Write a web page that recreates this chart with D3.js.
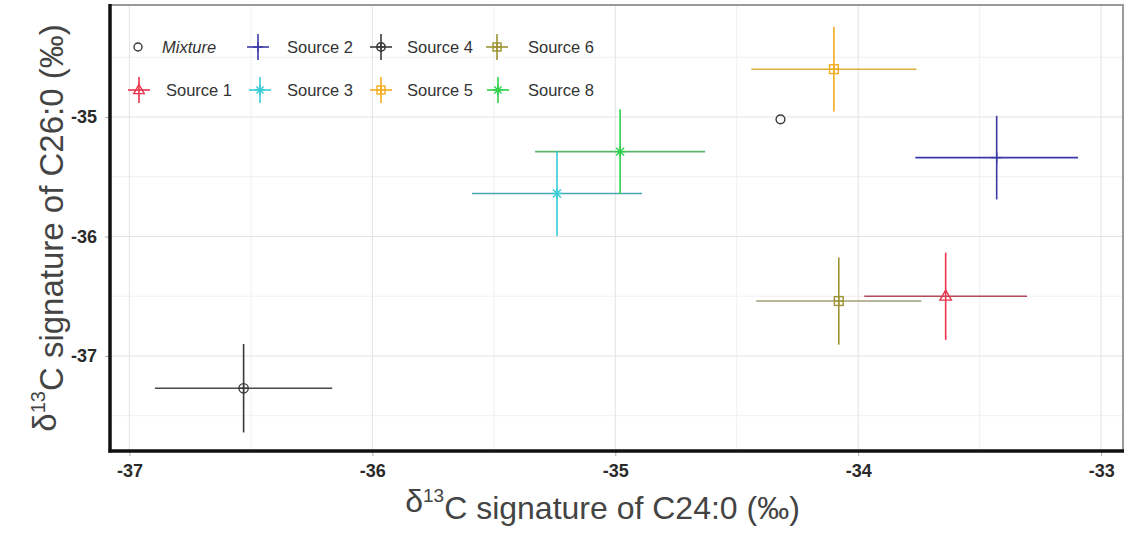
<!DOCTYPE html>
<html>
<head>
<meta charset="utf-8">
<script src="https://cdn.jsdelivr.net/npm/d3@7"></script>
<style>
  html, body { margin: 0; padding: 0; background: #fff; }
  svg { display: block; }
</style>
</head>
<body>
<svg id="chart" width="1126" height="537"></svg>
<script>
// Source means and standard deviations of the two compound-specific signatures
const sourceNames = ["Source 1", "Source 2", "Source 3", "Source 4", "Source 5", "Source 6", "Source 8"];
const c24Mean = [-33.64, -33.43, -35.24, -36.53, -34.10, -34.08, -34.98];
const c24Sd   = [0.335, 0.335, 0.35, 0.365, 0.34, 0.34, 0.35];
const c26Mean = [-36.50, -35.34, -35.64, -37.27, -34.60, -36.54, -35.29];
const c26Sd   = [0.365, 0.35, 0.355, 0.37, 0.355, 0.365, 0.355];
const shapes  = ["triangle", "plus", "asterisk", "circlePlus", "squarePlus", "squarePlus", "asterisk"];
const colors  = ["#e8344c", "#3a3aa6", "#38ccd6", "#3a3a3a", "#f2ac1f", "#9c9233", "#2fd04a"];
const barColors = ["#b34a58", "#3a3aa6", "#4aa7ad", "#4a4a4a", "#dcae3e", "#a29f78", "#5db56c"];

// Mixture sample
const mixtureC24 = [-34.32];
const mixtureC26 = [-35.02];

const xTicks = [-37, -36, -35, -34, -33];
const yTicks = [-37, -36, -35];
const xMinor = [-36.5, -35.5, -34.5, -33.5];
const yMinor = [-37.5, -36.5, -35.5, -34.5];

const svg = d3.select("#chart");
const panel = { left: 110, right: 1123, top: 5, bottom: 451 };

const x = d3.scaleLinear().domain([-37.08, -32.91]).range([panel.left, panel.right]);
const y = d3.scaleLinear().domain([-37.795, -34.063]).range([panel.bottom, panel.top]);

// Grid
const grid = svg.append("g");
grid.selectAll(".xminor").data(xMinor).join("line")
  .attr("x1", d => x(d)).attr("x2", d => x(d))
  .attr("y1", panel.top).attr("y2", panel.bottom)
  .attr("stroke", "#f0f0f0").attr("stroke-width", 1);
grid.selectAll(".yminor").data(yMinor).join("line")
  .attr("y1", d => y(d)).attr("y2", d => y(d))
  .attr("x1", panel.left).attr("x2", panel.right)
  .attr("stroke", "#f0f0f0").attr("stroke-width", 1);
grid.selectAll(".xmajor").data(xTicks).join("line")
  .attr("x1", d => x(d)).attr("x2", d => x(d))
  .attr("y1", panel.top).attr("y2", panel.bottom)
  .attr("stroke", "#e3e3e3").attr("stroke-width", 1);
grid.selectAll(".ymajor").data(yTicks).join("line")
  .attr("y1", d => y(d)).attr("y2", d => y(d))
  .attr("x1", panel.left).attr("x2", panel.right)
  .attr("stroke", "#e3e3e3").attr("stroke-width", 1);

// Panel border: light top/right, heavy left/bottom
svg.append("rect")
  .attr("x", panel.left).attr("y", panel.top)
  .attr("width", panel.right - panel.left).attr("height", panel.bottom - panel.top)
  .attr("fill", "none").attr("stroke", "#9a9a9a").attr("stroke-width", 2);

// Axes
const xAxis = svg.append("g")
  .attr("transform", `translate(0,${panel.bottom})`)
  .call(d3.axisBottom(x).tickValues(xTicks).tickFormat(d => String(d)).tickSize(5).tickPadding(6));
const yAxis = svg.append("g")
  .attr("transform", `translate(${panel.left},0)`)
  .call(d3.axisLeft(y).tickValues(yTicks).tickFormat(d => String(d)).tickSize(5).tickPadding(6));
[xAxis, yAxis].forEach(a => {
  a.select(".domain").remove();
  a.selectAll(".tick line").attr("stroke", "#b0b0b0");
  a.selectAll(".tick text")
    .attr("fill", "#2a2a2a")
    .style("font-family", "'Liberation Sans Narrow', 'Liberation Sans', Arial, sans-serif")
    .style("font-size", "18px")
    .style("font-weight", "bold");
});
xAxis.selectAll(".tick text").attr("dy", "0.85em");
yAxis.selectAll(".tick text").attr("dx", "-2");

svg.append("line")
  .attr("x1", panel.left).attr("x2", panel.left)
  .attr("y1", panel.top - 1).attr("y2", panel.bottom + 1.5)
  .attr("stroke", "#111").attr("stroke-width", 3.5);
svg.append("line")
  .attr("x1", panel.left - 1.5).attr("x2", panel.right + 1)
  .attr("y1", panel.bottom).attr("y2", panel.bottom)
  .attr("stroke", "#111").attr("stroke-width", 3.5);

// Point glyphs
function drawShape(g, shape, color, r) {
  const sw = 1.4;
  const line = (x1, y1, x2, y2) => g.append("line")
    .attr("x1", x1).attr("y1", y1).attr("x2", x2).attr("y2", y2)
    .attr("stroke", color).attr("stroke-width", sw);
  if (shape === "triangle") {
    const h = r * 1.1;
    g.append("path")
      .attr("d", `M0,${-h} L${h * 0.95},${h * 0.65} L${-h * 0.95},${h * 0.65} Z`)
      .attr("fill", "none").attr("stroke", color).attr("stroke-width", sw);
  } else if (shape === "plus") {
    line(-r, 0, r, 0); line(0, -r, 0, r);
  } else if (shape === "asterisk") {
    line(-r, 0, r, 0); line(0, -r, 0, r);
    const d = r * 0.72;
    line(-d, -d, d, d); line(-d, d, d, -d);
  } else if (shape === "circlePlus") {
    g.append("circle").attr("r", r * 0.85).attr("fill", "none").attr("stroke", color).attr("stroke-width", sw);
    line(-r * 0.85, 0, r * 0.85, 0); line(0, -r * 0.85, 0, r * 0.85);
  } else if (shape === "squarePlus") {
    const s = r * 0.8;
    g.append("rect").attr("x", -s).attr("y", -s).attr("width", 2 * s).attr("height", 2 * s)
      .attr("fill", "none").attr("stroke", color).attr("stroke-width", sw);
    line(-s, 0, s, 0); line(0, -s, 0, s);
  } else if (shape === "circle") {
    g.append("circle").attr("r", r * 0.8).attr("fill", "none").attr("stroke", color).attr("stroke-width", sw);
  }
}

// Source error crosses
const sources = sourceNames.map((name, i) => ({
  name, x: c24Mean[i], xe: c24Sd[i], y: c26Mean[i], ye: c26Sd[i],
  shape: shapes[i], color: colors[i], barColor: barColors[i]
}));

const marks = svg.append("g");
sources.forEach(s => {
  marks.append("line")
    .attr("x1", x(s.x - s.xe)).attr("x2", x(s.x + s.xe))
    .attr("y1", y(s.y)).attr("y2", y(s.y))
    .attr("stroke", s.barColor).attr("stroke-width", 1.6);
});
sources.forEach(s => {
  marks.append("line")
    .attr("x1", x(s.x)).attr("x2", x(s.x))
    .attr("y1", y(s.y - s.ye)).attr("y2", y(s.y + s.ye))
    .attr("stroke", s.color).attr("stroke-width", 1.6);
  const g = marks.append("g").attr("transform", `translate(${x(s.x)},${y(s.y)})`);
  drawShape(g, s.shape, s.color, 5.5);
});

// Mixture point
mixtureC24.forEach((mx, i) => {
  const g = marks.append("g").attr("transform", `translate(${x(mx)},${y(mixtureC26[i])})`);
  drawShape(g, "circle", "#3a3a3a", 5.5);
});

// Legend
const legendItems = [
  { label: "Mixture", shape: "circle", color: "#3a3a3a", kx: 138, ky: 47, tx: 162, italic: true },
  { label: "Source 1", i: 0, kx: 139, ky: 90, tx: 166 },
  { label: "Source 2", i: 1, kx: 258, ky: 47, tx: 287 },
  { label: "Source 3", i: 2, kx: 260, ky: 90, tx: 287 },
  { label: "Source 4", i: 3, kx: 381, ky: 47, tx: 407 },
  { label: "Source 5", i: 4, kx: 381, ky: 90, tx: 407 },
  { label: "Source 6", i: 5, kx: 497, ky: 47, tx: 528 },
  { label: "Source 8", i: 6, kx: 498, ky: 90, tx: 528 }
];
const legend = svg.append("g");
legendItems.forEach(it => {
  const g = legend.append("g").attr("transform", `translate(${it.kx},${it.ky})`);
  if (it.i !== undefined) {
    const col = colors[it.i];
    g.append("line").attr("x1", -11).attr("x2", 11).attr("y1", 0).attr("y2", 0)
      .attr("stroke", col).attr("stroke-width", 1.6);
    g.append("line").attr("x1", 0).attr("x2", 0).attr("y1", -13).attr("y2", 13)
      .attr("stroke", col).attr("stroke-width", 1.6);
    drawShape(g, shapes[it.i], col, 5);
  } else {
    drawShape(g, it.shape, it.color, 5);
  }
  legend.append("text")
    .attr("x", it.tx).attr("y", it.ky).attr("dy", "0.35em")
    .attr("fill", "#333")
    .style("font-family", "'Liberation Sans', Arial, sans-serif")
    .style("font-size", "16.5px")
    .style("font-style", it.italic ? "italic" : "normal")
    .text(it.label);
});

// Axis titles
const titleFont = "'Liberation Sans', Arial, sans-serif";
const xt = svg.append("text")
  .attr("x", (panel.left + panel.right) / 2 - 14).attr("y", 512)
  .attr("text-anchor", "middle").attr("fill", "#444")
  .style("font-family", titleFont).style("font-size", "32px");
xt.append("tspan").text("δ");
xt.append("tspan").attr("dy", "-0.55em").style("font-size", "19px").text("13");
xt.append("tspan").attr("dy", "0.55em").text("C signature of C24:0 (‰)");

const yt = svg.append("text")
  .attr("transform", `translate(56,${(panel.top + panel.bottom) / 2}) rotate(-90)`)
  .attr("text-anchor", "middle").attr("fill", "#444")
  .style("font-family", titleFont).style("font-size", "33px");
yt.append("tspan").text("δ");
yt.append("tspan").attr("dy", "-0.55em").style("font-size", "20px").text("13");
yt.append("tspan").attr("dy", "0.55em").text("C  signature of C26:0 (‰)");
</script>
</body>
</html>
